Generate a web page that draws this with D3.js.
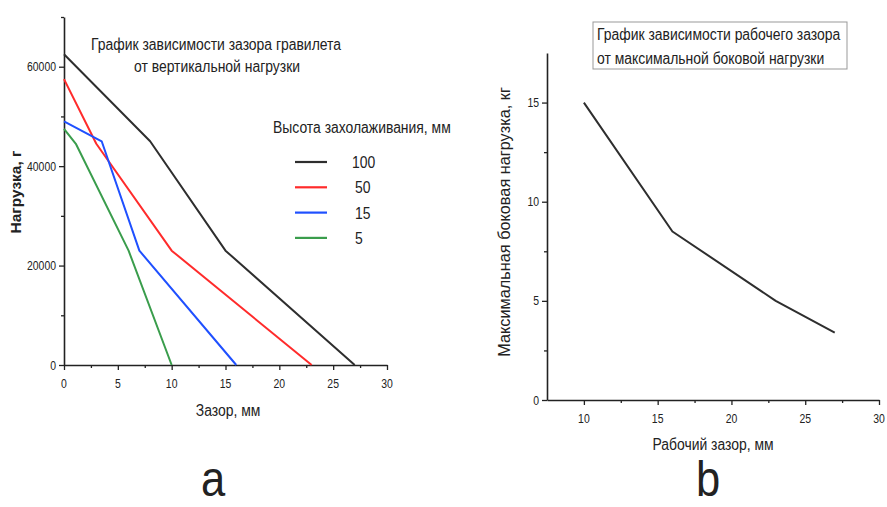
<!DOCTYPE html>
<html lang="ru">
<head>
    <meta charset="UTF-8">
    <title>Графики зависимости зазора</title>
    <script src="https://d3js.org/d3.v7.min.js"></script>
    <style>
        body { margin: 0; padding: 0; background: #fff; font-family: "Liberation Sans", Arial, sans-serif; }
        svg text { fill: #222; }
        .domain, .tick line { stroke: #222; }
    </style>
</head>
<body>
<svg id="chart" width="887" height="507"></svg>
<script>
    // --- chart a: load vs gap for several heights ---
    const heights = ["100", "50", "15", "5"];
    const heightColors = ["#2e2e2e", "#ff2b2b", "#1f50ff", "#3a9d4c"];
    const gap100 = [0, 8, 15, 27];
    const load100 = [62500, 45000, 23000, 0];
    const gap50 = [0, 3, 10, 23];
    const load50 = [57500, 44500, 23000, 0];
    const gap15 = [0, 3.5, 7, 16];
    const load15 = [49000, 45000, 23000, 0];
    const gap5 = [0, 1.1, 6, 10];
    const load5 = [47500, 44500, 23000, 0];
    const aXTicks = [0, 5, 10, 15, 20, 25, 30];
    const aYTicks = [0, 20000, 40000, 60000];

    // --- chart b: max side load vs working gap ---
    const workGap = [10, 16, 23, 27];
    const sideLoad = [15, 8.5, 5, 3.4];
    const bXTicks = [10, 15, 20, 25, 30];
    const bYTicks = [0, 5, 10, 15];

    const SQ = 0.87; // picture is squeezed horizontally
    const svg = d3.select("#chart");

    function addText(x, y, str, size, anchor, weight) {
        svg.append("text")
            .attr("transform", `translate(${x},${y}) scale(${SQ},1)`)
            .attr("text-anchor", anchor || "start")
            .style("font-size", size + "px")
            .style("font-weight", weight || "normal")
            .text(str);
    }

    function drawAxes(x, y, xTicks, xMinor, yTicks, yMinor, yFmt) {
        const [x0] = x.range();
        const [y0] = y.range();
        // minor ticks first
        svg.append("g").attr("transform", `translate(0,${y0})`)
            .call(d3.axisBottom(x).tickValues(xMinor).tickSize(3).tickFormat(""))
            .call(g => g.select(".domain").remove());
        svg.append("g").attr("transform", `translate(${x0},0)`)
            .call(d3.axisLeft(y).tickValues(yMinor).tickSize(3).tickFormat(""))
            .call(g => g.select(".domain").remove());

        const gx = svg.append("g").attr("transform", `translate(0,${y0})`)
            .call(d3.axisBottom(x).tickValues(xTicks).tickSize(5).tickSizeOuter(0).tickFormat(""));
        const gy = svg.append("g").attr("transform", `translate(${x0},0)`)
            .call(d3.axisLeft(y).tickValues(yTicks).tickSize(5).tickSizeOuter(0).tickFormat(""));
        gx.select(".domain").attr("stroke-width", 1.6);
        gy.select(".domain").attr("stroke-width", 1.6);
        svg.selectAll(".tick line").attr("stroke-width", 1.3);

        xTicks.forEach(t => addText(x(t), y0 + 23, t, 12, "middle"));
        yTicks.forEach(t => addText(x0 - 8, y(t) + 4.5, yFmt ? yFmt(t) : t, 12, "end"));
    }

    // ---------- chart a ----------
    const xa = d3.scaleLinear().domain([0, 30]).range([64, 387]);
    const ya = d3.scaleLinear().domain([0, 70000]).range([365, 17]);
    drawAxes(xa, ya, aXTicks, [2.5, 7.5, 12.5, 17.5, 22.5, 27.5],
        aYTicks, [10000, 30000, 50000, 70000]);

    const seriesA = [
        { name: heights[0], col: heightColors[0], xs: gap100, ys: load100 },
        { name: heights[1], col: heightColors[1], xs: gap50, ys: load50 },
        { name: heights[2], col: heightColors[2], xs: gap15, ys: load15 },
        { name: heights[3], col: heightColors[3], xs: gap5, ys: load5 }
    ];
    const lineA = d3.line().x(d => xa(d[0])).y(d => ya(d[1]));
    svg.selectAll(".serA")
        .data(seriesA)
        .enter().append("path")
        .attr("class", "serA")
        .attr("d", s => lineA(s.xs.map((v, i) => [v, s.ys[i]])))
        .attr("fill", "none")
        .attr("stroke", s => s.col)
        .attr("stroke-width", 2)
        .attr("stroke-linejoin", "round");

    addText(216, 50, "График зависимости зазора гравилета", 16, "middle");
    addText(217, 72, "от вертикальной нагрузки", 16, "middle");

    // legend
    addText(273, 133, "Высота захолаживания, мм", 16, "start");
    seriesA.forEach((s, i) => {
        const ly = 162 + i * 25.3;
        svg.append("line")
            .attr("x1", 295).attr("x2", 327)
            .attr("y1", ly).attr("y2", ly)
            .attr("stroke", s.col).attr("stroke-width", 2.2);
        addText(i === 0 ? 352 : 355, ly + 6, s.name, 16, "start");
    });

    addText(228, 416, "Зазор, мм", 16, "middle");
    svg.append("text")
        .attr("transform", `translate(21,192) rotate(-90)`)
        .attr("text-anchor", "middle")
        .style("font-size", "15.5px")
        .style("font-weight", "bold")
        .text("Нагрузка, г");

    // ---------- chart b ----------
    const xb = d3.scaleLinear().domain([7.5, 30]).range([547, 879]);
    const yb = d3.scaleLinear().domain([0, 17.5]).range([400, 53]);
    drawAxes(xb, yb, bXTicks, [12.5, 17.5, 22.5, 27.5], bYTicks, [2.5, 7.5, 12.5]);

    const lineB = d3.line().x(d => xb(d[0])).y(d => yb(d[1]));
    svg.append("path")
        .attr("d", lineB(workGap.map((v, i) => [v, sideLoad[i]])))
        .attr("fill", "none")
        .attr("stroke", "#2e2e2e")
        .attr("stroke-width", 2)
        .attr("stroke-linejoin", "round");

    svg.append("rect")
        .attr("x", 593).attr("y", 22)
        .attr("width", 254).attr("height", 47)
        .attr("fill", "none")
        .attr("stroke", "#999").attr("stroke-width", 1);
    addText(597, 40, "График зависимости рабочего зазора", 16, "start");
    addText(597, 64, "от максимальной боковой нагрузки", 16, "start");

    addText(713, 450, "Рабочий зазор, мм", 16, "middle");
    svg.append("text")
        .attr("transform", `translate(510,222) rotate(-90)`)
        .attr("text-anchor", "middle")
        .style("font-size", "16.3px")
        .text("Максимальная боковая нагрузка, кг");

    // panel letters
    addText(213, 496, "a", 50, "middle");
    addText(708, 496, "b", 50, "middle");
</script>
</body>
</html>
